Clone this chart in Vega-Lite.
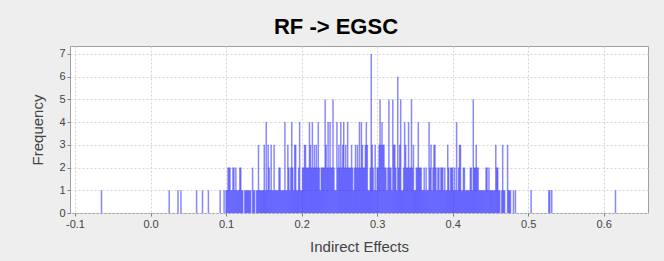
{
"$schema":"https://vega.github.io/schema/vega-lite/v6.json",
"width":578,"height":167,
"autosize":{"type":"none"},
"padding":{"left":70,"top":46,"right":16,"bottom":48},
"background":"#eeeeee",
"title":{"text":"RF -> EGSC","font":"Liberation Sans","fontSize":22,"fontWeight":"bold","color":"#000000","anchor":"middle","frame":"group","dx":-23,"offset":7},
"config":{"view":{"fill":"white","stroke":"#a0a0a0","strokeWidth":1}},
"data":{"values":[
{"x":-0.0649,"f":1},{"x":0.0247,"f":1},{"x":0.0364,"f":1},{"x":0.0403,"f":1},{"x":0.0610,"f":1},{"x":0.0688,"f":1},{"x":0.0766,"f":1},{"x":0.0922,"f":1},
{"x":0.0974,"f":1},{"x":0.1000,"f":1},{"x":0.1013,"f":1},{"x":0.1026,"f":2},{"x":0.1039,"f":2},{"x":0.1052,"f":2},{"x":0.1065,"f":1},{"x":0.1078,"f":1},{"x":0.1091,"f":2},{"x":0.1104,"f":2},{"x":0.1117,"f":1},{"x":0.1130,"f":2},{"x":0.1143,"f":1},{"x":0.1156,"f":1},{"x":0.1169,"f":1},{"x":0.1182,"f":2},{"x":0.1195,"f":2},{"x":0.1208,"f":1},{"x":0.1221,"f":1},
{"x":0.1247,"f":1},{"x":0.1260,"f":1},{"x":0.1273,"f":1},{"x":0.1286,"f":1},{"x":0.1299,"f":1},{"x":0.1312,"f":1},{"x":0.1325,"f":1},{"x":0.1351,"f":2},{"x":0.1364,"f":1},{"x":0.1377,"f":1},{"x":0.1403,"f":1},{"x":0.1416,"f":1},{"x":0.1429,"f":3},{"x":0.1442,"f":1},{"x":0.1455,"f":1},{"x":0.1468,"f":1},{"x":0.1481,"f":1},{"x":0.1494,"f":1},{"x":0.1506,"f":3},{"x":0.1519,"f":1},{"x":0.1532,"f":4},{"x":0.1545,"f":1},{"x":0.1558,"f":3},{"x":0.1571,"f":2},{"x":0.1584,"f":1},{"x":0.1597,"f":3},{"x":0.1610,"f":1},{"x":0.1623,"f":1},{"x":0.1636,"f":3},{"x":0.1649,"f":1},{"x":0.1662,"f":1},{"x":0.1675,"f":1},{"x":0.1688,"f":1},{"x":0.1701,"f":2},{"x":0.1714,"f":2},{"x":0.1727,"f":1},{"x":0.1740,"f":1},{"x":0.1753,"f":1},{"x":0.1766,"f":1},{"x":0.1779,"f":4},{"x":0.1792,"f":1},{"x":0.1805,"f":1},{"x":0.1818,"f":3},{"x":0.1831,"f":2},{"x":0.1844,"f":1},{"x":0.1857,"f":2},{"x":0.1870,"f":4},{"x":0.1883,"f":2},{"x":0.1896,"f":1},{"x":0.1909,"f":3},{"x":0.1922,"f":3},{"x":0.1935,"f":1},{"x":0.1948,"f":1},{"x":0.1961,"f":2},{"x":0.1974,"f":4},{"x":0.1987,"f":1},{"x":0.2000,"f":1},
{"x":0.2013,"f":2},{"x":0.2026,"f":2},{"x":0.2039,"f":3},{"x":0.2052,"f":3},{"x":0.2065,"f":2},{"x":0.2078,"f":2},{"x":0.2091,"f":2},{"x":0.2104,"f":4},{"x":0.2117,"f":3},{"x":0.2130,"f":2},{"x":0.2143,"f":4},{"x":0.2156,"f":2},{"x":0.2169,"f":3},{"x":0.2182,"f":2},{"x":0.2195,"f":3},{"x":0.2208,"f":2},{"x":0.2221,"f":4},{"x":0.2234,"f":2},{"x":0.2247,"f":1},{"x":0.2260,"f":2},{"x":0.2273,"f":2},{"x":0.2286,"f":2},{"x":0.2299,"f":2},{"x":0.2312,"f":5},{"x":0.2325,"f":3},{"x":0.2338,"f":2},{"x":0.2351,"f":4},{"x":0.2364,"f":2},{"x":0.2377,"f":4},{"x":0.2390,"f":2},{"x":0.2403,"f":2},{"x":0.2416,"f":5},{"x":0.2429,"f":2},{"x":0.2442,"f":1},{"x":0.2455,"f":1},{"x":0.2468,"f":4},{"x":0.2481,"f":2},{"x":0.2494,"f":3},{"x":0.2506,"f":2},{"x":0.2519,"f":4},{"x":0.2532,"f":2},{"x":0.2545,"f":3},{"x":0.2558,"f":4},{"x":0.2571,"f":2},{"x":0.2584,"f":3},{"x":0.2597,"f":2},{"x":0.2610,"f":4},{"x":0.2623,"f":2},{"x":0.2636,"f":2},{"x":0.2649,"f":2},{"x":0.2662,"f":3},{"x":0.2675,"f":2},{"x":0.2688,"f":1},{"x":0.2701,"f":2},{"x":0.2714,"f":3},{"x":0.2727,"f":2},{"x":0.2740,"f":3},{"x":0.2753,"f":2},{"x":0.2766,"f":4},{"x":0.2779,"f":2},{"x":0.2792,"f":4},{"x":0.2805,"f":3},{"x":0.2818,"f":2},{"x":0.2831,"f":2},{"x":0.2844,"f":3},{"x":0.2857,"f":4},{"x":0.2870,"f":3},{"x":0.2883,"f":1},{"x":0.2896,"f":1},{"x":0.2909,"f":2},{"x":0.2922,"f":7},{"x":0.2935,"f":3},{"x":0.2948,"f":2},{"x":0.2961,"f":1},{"x":0.2974,"f":3},{"x":0.2987,"f":1},{"x":0.3000,"f":2},
{"x":0.3013,"f":2},{"x":0.3026,"f":3},{"x":0.3039,"f":5},{"x":0.3052,"f":3},{"x":0.3065,"f":4},{"x":0.3078,"f":3},{"x":0.3091,"f":3},{"x":0.3104,"f":2},{"x":0.3117,"f":2},{"x":0.3130,"f":1},{"x":0.3143,"f":2},{"x":0.3156,"f":5},{"x":0.3169,"f":2},{"x":0.3182,"f":2},{"x":0.3195,"f":1},{"x":0.3208,"f":5},{"x":0.3221,"f":3},{"x":0.3234,"f":3},{"x":0.3247,"f":2},{"x":0.3260,"f":1},{"x":0.3273,"f":6},{"x":0.3286,"f":2},{"x":0.3299,"f":3},{"x":0.3312,"f":5},{"x":0.3325,"f":1},{"x":0.3338,"f":1},{"x":0.3351,"f":2},{"x":0.3364,"f":4},{"x":0.3377,"f":3},{"x":0.3390,"f":2},{"x":0.3403,"f":2},{"x":0.3416,"f":4},{"x":0.3429,"f":2},{"x":0.3442,"f":2},{"x":0.3455,"f":5},{"x":0.3468,"f":2},{"x":0.3481,"f":3},{"x":0.3494,"f":1},{"x":0.3506,"f":1},{"x":0.3519,"f":2},{"x":0.3532,"f":2},{"x":0.3545,"f":4},{"x":0.3558,"f":2},{"x":0.3571,"f":2},{"x":0.3584,"f":2},{"x":0.3597,"f":1},{"x":0.3610,"f":1},{"x":0.3623,"f":2},{"x":0.3636,"f":1},{"x":0.3649,"f":2},{"x":0.3662,"f":1},{"x":0.3675,"f":1},{"x":0.3688,"f":4},{"x":0.3701,"f":2},{"x":0.3714,"f":3},{"x":0.3727,"f":1},{"x":0.3740,"f":2},{"x":0.3753,"f":3},{"x":0.3766,"f":3},{"x":0.3779,"f":2},{"x":0.3792,"f":1},{"x":0.3805,"f":2},{"x":0.3818,"f":2},{"x":0.3831,"f":1},{"x":0.3844,"f":2},{"x":0.3857,"f":2},{"x":0.3870,"f":2},{"x":0.3883,"f":1},{"x":0.3896,"f":2},{"x":0.3909,"f":1},{"x":0.3922,"f":1},{"x":0.3935,"f":3},{"x":0.3948,"f":2},{"x":0.3961,"f":1},{"x":0.3974,"f":2},{"x":0.3987,"f":2},{"x":0.4000,"f":2},
{"x":0.4013,"f":1},{"x":0.4026,"f":2},{"x":0.4039,"f":1},{"x":0.4052,"f":4},{"x":0.4065,"f":1},{"x":0.4078,"f":2},{"x":0.4091,"f":3},{"x":0.4104,"f":3},{"x":0.4117,"f":1},{"x":0.4130,"f":1},{"x":0.4143,"f":2},{"x":0.4156,"f":2},{"x":0.4169,"f":1},{"x":0.4182,"f":1},{"x":0.4195,"f":1},{"x":0.4208,"f":1},{"x":0.4221,"f":1},{"x":0.4234,"f":2},{"x":0.4247,"f":2},{"x":0.4260,"f":1},{"x":0.4273,"f":5},{"x":0.4286,"f":2},{"x":0.4299,"f":2},{"x":0.4312,"f":3},{"x":0.4325,"f":2},{"x":0.4338,"f":2},{"x":0.4351,"f":1},{"x":0.4364,"f":1},{"x":0.4377,"f":1},{"x":0.4390,"f":1},{"x":0.4403,"f":1},{"x":0.4416,"f":1},{"x":0.4429,"f":1},{"x":0.4442,"f":2},{"x":0.4455,"f":2},{"x":0.4468,"f":1},{"x":0.4481,"f":2},{"x":0.4494,"f":1},{"x":0.4506,"f":1},{"x":0.4519,"f":1},{"x":0.4532,"f":1},{"x":0.4545,"f":1},{"x":0.4558,"f":1},{"x":0.4571,"f":3},{"x":0.4584,"f":2},{"x":0.4597,"f":2},{"x":0.4610,"f":1},{"x":0.4623,"f":1},{"x":0.4649,"f":1},{"x":0.4662,"f":3},{"x":0.4675,"f":1},{"x":0.4688,"f":1},{"x":0.4727,"f":3},{"x":0.4740,"f":1},{"x":0.4753,"f":1},{"x":0.4766,"f":1},{"x":0.4805,"f":1},{"x":0.4831,"f":1},{"x":0.5039,"f":1},{"x":0.5273,"f":1},{"x":0.5286,"f":1},{"x":0.5312,"f":1},{"x":0.6156,"f":1}
]},
"mark":{"type":"bar","width":1.5,"fill":"#0000ff","fillOpacity":0.47,"clip":true},
"encoding":{
"x":{"field":"x","type":"quantitative","scale":{"domain":[-0.1,0.652],"nice":false,"zero":false},
"axis":{"values":[-0.1,0,0.1,0.2,0.3,0.4,0.5,0.6],"labelExpr":"replace(format(datum.value,'.1f'),'\u2212','-')","grid":true,"gridDash":[2,2],"gridColor":"#d4d4d4","domain":false,"tickColor":"#808080","tickSize":3,"labelFont":"Liberation Sans","labelFontSize":11,"labelColor":"#444444","labelPadding":2,"title":"Indirect Effects","titleFont":"Liberation Sans","titleFontSize":15,"titleFontWeight":"normal","titleColor":"#444444","titlePadding":10}},
"y":{"field":"f","type":"quantitative","scale":{"domain":[0,7.35],"nice":false},
"axis":{"values":[0,1,2,3,4,5,6,7],"format":"d","grid":true,"gridDash":[2,2],"gridColor":"#d4d4d4","domain":false,"tickColor":"#808080","tickSize":3,"labelFont":"Liberation Sans","labelFontSize":11,"labelColor":"#444444","labelPadding":2,"title":"Frequency","titleFont":"Liberation Sans","titleFontSize":15,"titleFontWeight":"normal","titleColor":"#444444","titlePadding":13}}
}
}
